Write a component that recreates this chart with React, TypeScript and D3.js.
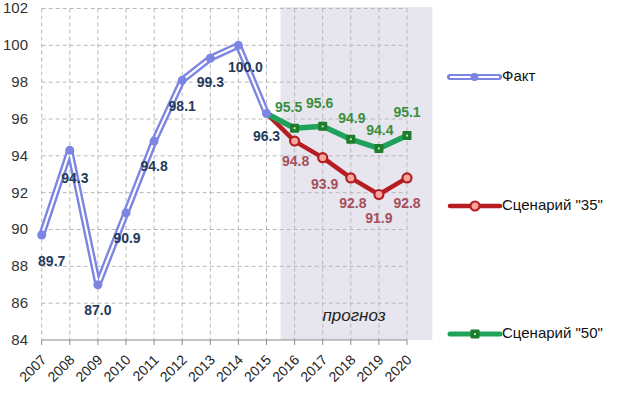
import * as d3 from "d3";

const years = ["2007", "2008", "2009", "2010", "2011", "2012", "2013", "2014", "2015", "2016", "2017", "2018", "2019", "2020"];
const factYears = ["2007", "2008", "2009", "2010", "2011", "2012", "2013", "2014", "2015"];
const factValues = [89.7, 94.3, 87.0, 90.9, 94.8, 98.1, 99.3, 100.0, 96.3];
const scenYears = ["2015", "2016", "2017", "2018", "2019", "2020"];
const scen35 = [96.3, 94.8, 93.9, 92.8, 91.9, 92.8];
const scen50 = [96.3, 95.5, 95.6, 94.9, 94.4, 95.1];
const yTicks = [84, 86, 88, 90, 92, 94, 96, 98, 100, 102];

// label offsets (dx, dy) for fact labels
const factLabelOffsets: [number, number][] = [
  [10, 27], [5, 29], [0, 27], [1, 26], [0, 26], [0, 27], [0, 25], [7, 23], [0, 24],
];

const FONT = "Liberation Sans, Arial, sans-serif";
const BLUE = "#7d85e2";
const RED = "#b51d22";
const GREEN = "#1fa35c";

export default function App() {
  const width = 620;
  const height = 395;
  const x = d3.scalePoint<string>().domain(years).range([41.7, 407]);
  const step = x.step();
  const y = d3.scaleLinear().domain([84, 102]).range([340, 8.5]);

  const line = d3
    .line<[string, number]>()
    .x((d) => x(d[0])!)
    .y((d) => y(d[1]));

  const fact = factYears.map((yr, i) => [yr, factValues[i]] as [string, number]);
  const s35 = scenYears.map((yr, i) => [yr, scen35[i]] as [string, number]);
  const s50 = scenYears.map((yr, i) => [yr, scen50[i]] as [string, number]);

  const shadeX0 = x("2015")! + step / 2;
  const shadeX1 = x("2020")! + step * 0.9;
  const x0 = x(years[0])!;
  const x1 = x(years[years.length - 1])!;

  return (
    <svg
      width={width}
      height={height}
      style={{ position: "absolute", left: 0, top: 0, background: "#fff" }}
      fontFamily={FONT}
    >
      {/* forecast shading */}
      <rect x={shadeX0} y={7} width={shadeX1 - shadeX0} height={y(84) - 7} fill="#e7e5ed" />

      {/* grid */}
      {yTicks.slice(1).map((t) => (
        <line key={t} x1={x0} x2={x1} y1={y(t)} y2={y(t)} stroke="#b8b8b8" strokeDasharray="4,3" strokeWidth={1} />
      ))}
      {years.map((yr) => (
        <line key={yr} x1={x(yr)} x2={x(yr)} y1={y(102)} y2={y(84)} stroke="#b8b8b8" strokeDasharray="4,3" strokeWidth={1} />
      ))}

      {/* x axis */}
      <line x1={x0} x2={x1} y1={y(84)} y2={y(84)} stroke="#8c8c8c" strokeWidth={1.2} />
      {years.map((yr) => (
        <line key={"t" + yr} x1={x(yr)} x2={x(yr)} y1={y(84)} y2={y(84) + 5} stroke="#8c8c8c" />
      ))}
      {years.map((yr) => (
        <text
          key={"l" + yr}
          transform={`translate(${x(yr)! + 3},${y(84) + 18}) rotate(-45)`}
          textAnchor="end"
          dominantBaseline="middle"
          fontSize={14}
          fill="#222"
        >
          {yr}
        </text>
      ))}

      {/* y axis labels */}
      {yTicks.map((t) => (
        <text key={"y" + t} x={28} y={y(t) + 1} textAnchor="end" dominantBaseline="middle" fontSize={15} fill="#333">
          {t}
        </text>
      ))}

      <text x={354} y={321} textAnchor="middle" fontSize={17} fontStyle="italic" fill="#222">
        прогноз
      </text>

      {/* scenario 35 */}
      <path d={line(s35)!} fill="none" stroke={RED} strokeWidth={4.5} strokeLinejoin="round" />
      {/* scenario 50 */}
      <path d={line(s50)!} fill="none" stroke={GREEN} strokeWidth={5.5} strokeLinejoin="round" />

      {/* fact double line */}
      <path d={line(fact)!} fill="none" stroke={BLUE} strokeWidth={7} strokeLinejoin="round" />
      <path d={line(fact)!} fill="none" stroke="#fff" strokeWidth={2.2} strokeLinejoin="round" />
      {fact.map((d) => (
        <circle key={"f" + d[0]} cx={x(d[0])} cy={y(d[1])} r={4.5} fill={BLUE} />
      ))}

      {s35.slice(1).map((d) => (
        <circle key={"r" + d[0]} cx={x(d[0])} cy={y(d[1])} r={4.5} fill="#f6a79e" stroke={RED} strokeWidth={2.2} />
      ))}
      {s50.slice(1).map((d) => (
        <g key={"g" + d[0]}>
          <rect x={x(d[0])! - 4.5} y={y(d[1]) - 4.5} width={9} height={9} fill="#1d7d2c" rx={1} />
          <rect x={x(d[0])! - 1} y={y(d[1]) - 1} width={2} height={2} fill="#b9e6b9" />
        </g>
      ))}

      {/* labels */}
      {fact.map((d, i) => (
        <text
          key={"fl" + d[0]}
          x={x(d[0])! + factLabelOffsets[i][0]}
          y={y(d[1]) + factLabelOffsets[i][1]}
          textAnchor="middle"
          dominantBaseline="middle"
          fontSize={14}
          fontWeight="bold"
          fill="#24395c"
        >
          {d[1].toFixed(1)}
        </text>
      ))}
      {s35.slice(1).map((d, i) => (
        <text
          key={"rl" + d[0]}
          x={x(d[0])! + [1, 2, 2, 0, 0][i]}
          y={y(d[1]) + [21, 28, 26, 25, 26][i]}
          textAnchor="middle"
          dominantBaseline="middle"
          fontSize={14}
          fontWeight="bold"
          fill="#a64f5c"
        >
          {d[1].toFixed(1)}
        </text>
      ))}
      {s50.slice(1).map((d, i) => (
        <text
          key={"gl" + d[0]}
          x={x(d[0])! + [-6, -3, 1, 1, 0][i]}
          y={y(d[1]) - [20, 22, 20, 17, 22][i]}
          textAnchor="middle"
          dominantBaseline="middle"
          fontSize={14}
          fontWeight="bold"
          fill="#3a8f3e"
        >
          {d[1].toFixed(1)}
        </text>
      ))}

      {/* legend */}
      <g transform="translate(450,77)">
        <line x1={0} x2={49} y1={0} y2={0} stroke={BLUE} strokeWidth={6} strokeLinecap="round" />
        <line x1={0} x2={49} y1={0} y2={0} stroke="#fff" strokeWidth={2} />
        <circle cx={24.5} cy={0} r={4} fill={BLUE} />
        <text x={52} y={0} dominantBaseline="middle" fontSize={15} fill="#111">Факт</text>
      </g>
      <g transform="translate(450,206)">
        <line x1={0} x2={50} y1={0} y2={0} stroke={RED} strokeWidth={4.5} strokeLinecap="round" />
        <circle cx={25} cy={0} r={4.5} fill="#f6a79e" stroke={RED} strokeWidth={2.2} />
        <text x={52} y={0} dominantBaseline="middle" fontSize={15} fill="#111">Сценарий "35"</text>
      </g>
      <g transform="translate(450,334)">
        <line x1={0} x2={50} y1={0} y2={0} stroke={GREEN} strokeWidth={5} strokeLinecap="round" />
        <rect x={20.5} y={-4.5} width={9} height={9} fill="#1d7d2c" rx={1} />
        <rect x={24} y={-1} width={2} height={2} fill="#b9e6b9" />
        <text x={52} y={0} dominantBaseline="middle" fontSize={15} fill="#111">Сценарий "50"</text>
      </g>
    </svg>
  );
}
